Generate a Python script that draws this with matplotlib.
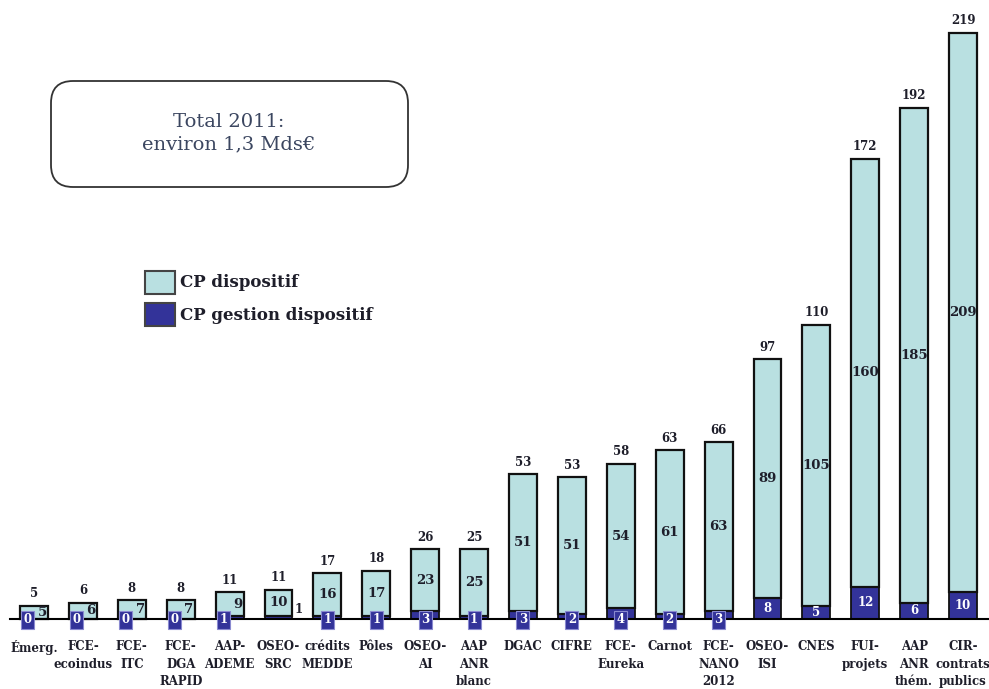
import numpy as np
import matplotlib
matplotlib.use('Agg')
import matplotlib.pyplot as plt
from matplotlib.patches import FancyBboxPatch

plt.rcParams['font.family'] = ['DejaVu Serif']

categories = ['Émerg.', 'FCE-\necoindus', 'FCE-\nITC', 'FCE-\nDGA\nRAPID', 'AAP-\nADEME',
              'OSEO-\nSRC', 'crédits\nMEDDE', 'Pôles', 'OSEO-\nAI', 'AAP\nANR\nblanc',
              'DGAC', 'CIFRE', 'FCE-\nEureka', 'Carnot', 'FCE-\nNANO\n2012',
              'OSEO-\nISI', 'CNES', 'FUI-\nprojets', 'AAP\nANR\nthém.', 'CIR-\ncontrats\npublics']
dispositif = [5, 6, 7, 7, 9, 10, 16, 17, 23, 25, 51, 51, 54, 61, 63, 89, 105, 160, 185, 209]
gestion = [0, 0, 0, 0, 1, 1, 1, 1, 3, 1, 3, 2, 4, 2, 3, 8, 5, 12, 6, 10]
totals = [5, 6, 8, 8, 11, 11, 17, 18, 26, 25, 53, 53, 58, 63, 66, 97, 110, 172, 192, 219]

light = '#b9e0e1'
dark = '#333399'
txt = '#1e1e2a'

fig = plt.figure(figsize=(9.89, 6.89), dpi=100)
ax = fig.add_axes([0, 0, 1, 1])
ax.set_xlim(-0.695, 19.53)
ax.set_ylim(-26.16, 231.3)
ax.axis('off')

x = np.arange(len(categories))
w = 0.57
b1 = ax.bar(x, gestion, w, color=dark, edgecolor='#111111', linewidth=1.3, zorder=2)
b2 = ax.bar(x, dispositif, w, bottom=gestion, color=light, edgecolor='#111111',
            linewidth=1.6, zorder=2, label='CP dispositif')
b1.set_label('CP gestion dispositif')

# baseline
ax.plot([-0.49, 19.53], [0, 0], color='black', lw=1.5, zorder=3)

for i in range(len(categories)):
    g, d, t = gestion[i], dispositif[i], totals[i]
    # total above
    ax.annotate(str(t), (x[i], g + d), xytext=(0, 4), textcoords='offset points',
                ha='center', va='bottom', fontsize=8.5, fontweight='bold', color=txt)
    # category label
    ax.text(x[i], -8.0, categories[i], ha='center', va='top', fontsize=8.5,
            fontweight='bold', color=txt, linespacing=1.45)

    small = d < 10
    if categories[i] == 'OSEO-\nSRC':
        ax.text(x[i], g + d / 2, str(d), ha='center', va='center', fontsize=9.5,
                fontweight='bold', color=txt, zorder=4)
        ax.text(x[i] + 0.41, 3.5, str(g), ha='center', va='center', fontsize=8.5,
                fontweight='bold', color=txt, zorder=4)
        continue
    if small:
        ax.text(x[i] + 0.17, max(g + d / 2, 2.5), str(d), ha='center', va='center',
                fontsize=9.5, fontweight='bold', color=txt, zorder=4)
    else:
        ax.text(x[i], g + d / 2, str(d), ha='center', va='center', fontsize=9.5,
                fontweight='bold', color=txt, zorder=4)
    if g >= 5:
        ax.text(x[i], g / 2, str(g), ha='center', va='center', fontsize=8.5,
                fontweight='bold', color='white', zorder=4)
    else:
        gx = x[i] - 0.13 if small else x[i]
        ax.text(gx, -0.3, str(g), ha='center', va='center', fontsize=8.5,
                fontweight='bold', color='white', zorder=5,
                bbox=dict(boxstyle='square,pad=0.2', facecolor=dark,
                          edgecolor='#8a8ad0', linewidth=0.8))

# legend
ax.legend(handles=[b2, b1], loc='upper left', bbox_to_anchor=(0.14, 0.617),
          frameon=False, handlelength=1.8, handleheight=1.75,
          handletextpad=0.3, labelspacing=0.55, borderaxespad=0,
          prop={'weight': 'bold', 'size': 12})
for t in ax.get_legend().get_texts():
    t.set_color(txt)
for h in ax.get_legend().legend_handles:
    h.set_edgecolor('#444444')
    h.set_linewidth(1.5)

# total box
box = FancyBboxPatch((51, 689 - 187), 357, 106, boxstyle='round,pad=0,rounding_size=22',
                     transform=None, facecolor='white', edgecolor='#333333', lw=1.3)
fig.patches.append(box)
fig.text(229 / 989, 1 - 133 / 689, 'Total 2011:\nenviron 1,3 Mds€', ha='center',
         va='center', fontsize=14, color='#3b4660', linespacing=1.3)

fig.savefig('out.png', dpi=100)
